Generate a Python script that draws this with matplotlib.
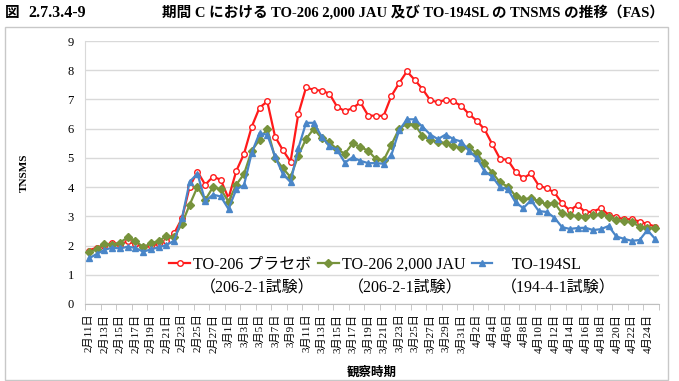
import numpy as np
import matplotlib
matplotlib.use('Agg')
import matplotlib.pyplot as plt
from matplotlib.patches import Rectangle

plt.rcParams['font.family'] = ['Liberation Serif', 'Noto Sans CJK JP']

# TNSMS per observation day, Feb 11 .. Apr 25
placebo = [1.83, 1.93, 2.00, 2.10, 2.03, 2.15, 2.05, 1.96, 2.00, 2.05,
           2.15, 2.42, 2.93, 4.02, 4.53, 4.08, 4.36, 4.25, 3.62, 4.55,
           5.14, 6.07, 6.72, 6.93, 5.73, 5.27, 4.87, 6.50, 7.41, 7.33,
           7.30, 7.20, 6.75, 6.60, 6.70, 6.90, 6.45, 6.44, 6.44, 7.12,
           7.56, 7.96, 7.67, 7.36, 6.98, 6.90, 6.99, 6.93, 6.78, 6.50,
           6.27, 5.98, 5.47, 4.97, 4.93, 4.53, 4.30, 4.47, 4.05, 3.96,
           3.82, 3.45, 3.20, 3.39, 3.14, 3.16, 3.28, 3.05, 2.97, 2.90,
           2.90, 2.82, 2.74, 2.65]
jau2000 = [1.77, 1.87, 2.07, 2.03, 2.10, 2.28, 2.17, 1.94, 2.08, 2.15,
           2.33, 2.28, 2.75, 3.40, 4.01, 3.56, 4.00, 3.93, 3.50, 4.08,
           4.45, 5.25, 5.62, 6.00, 5.00, 4.65, 4.34, 5.08, 5.65, 6.00,
           5.67, 5.53, 5.30, 5.14, 5.50, 5.37, 5.25, 4.96, 4.92, 5.45,
           6.00, 6.17, 6.14, 5.76, 5.62, 5.56, 5.50, 5.39, 5.35, 5.37,
           5.16, 4.82, 4.50, 4.16, 4.02, 3.70, 3.58, 3.62, 3.52, 3.41,
           3.47, 3.10, 3.03, 3.01, 2.99, 3.05, 3.07, 2.99, 2.88, 2.84,
           2.80, 2.65, 2.61, 2.61]
to194sl = [1.56, 1.71, 1.85, 1.93, 1.90, 1.96, 1.92, 1.79, 1.87, 1.94,
           2.02, 2.17, 2.93, 4.19, 4.46, 3.52, 3.74, 3.68, 3.25, 3.92,
           4.07, 5.18, 5.85, 5.79, 5.05, 4.45, 4.17, 5.33, 6.20, 6.20,
           5.73, 5.41, 5.27, 4.84, 5.02, 4.90, 4.82, 4.82, 4.80, 5.10,
           5.94, 6.32, 6.32, 6.07, 5.80, 5.64, 5.80, 5.64, 5.56, 5.25,
           4.99, 4.55, 4.36, 4.00, 3.93, 3.48, 3.28, 3.55, 3.18, 3.15,
           2.96, 2.63, 2.57, 2.60, 2.61, 2.53, 2.56, 2.67, 2.31, 2.23,
           2.16, 2.19, 2.53, 2.23]

# labels shown on every other day
tick_labels = ['2月11日', '2月13日', '2月15日', '2月17日', '2月19日', '2月21日',
               '2月23日', '2月25日', '2月27日', '3月1日', '3月3日', '3月5日',
               '3月7日', '3月9日', '3月11日', '3月13日', '3月15日', '3月17日',
               '3月19日', '3月21日', '3月23日', '3月25日', '3月27日', '3月29日',
               '3月31日', '4月2日', '4月4日', '4月6日', '4月8日', '4月10日',
               '4月12日', '4月14日', '4月16日', '4月18日', '4月20日', '4月22日',
               '4月24日']

series_names = ['TO-206 プラセボ', 'TO-206 2,000 JAU', '    TO-194SL']
study_names = ['（206-2-1試験）', '（206-2-1試験）', '（194-4-1試験）']

x = np.arange(len(placebo))

fig = plt.figure(figsize=(6.79, 3.81), dpi=100)
fig.patch.set_facecolor('w')
fig.add_artist(Rectangle((5/679, 0.002), 663/679, (381-28)/381, transform=fig.transFigure,
                         fill=False, edgecolor='#c8c8c8', linewidth=1.0))

ax = fig.add_axes([85/679, (381-304)/381, 574/679, 263/381])

ax.plot(x, placebo, color='#ff1a1a', linewidth=1.6, marker='o', markersize=4.0,
        markerfacecolor='white', markeredgecolor='#ff1a1a', markeredgewidth=1.0,
        label=series_names[0], zorder=3)
ax.plot(x, jau2000, color='#77933c', linewidth=1.6, marker='D', markersize=4.0,
        markerfacecolor='#77933c', markeredgecolor='#77933c',
        label=series_names[1], zorder=3)
ax.plot(x, to194sl, color='#4a86c8', linewidth=1.6, marker='^', markersize=4.0,
        markerfacecolor='#4a86c8', markeredgecolor='#4a86c8',
        label=series_names[2], zorder=3)

ax.set_xlim(-0.5, len(x) - 0.5)
ax.set_ylim(0, 9)
ax.set_yticks(range(0, 10))
ax.yaxis.grid(True, color='#d9d9d9', linewidth=1.0)
ax.set_axisbelow(True)

ax.set_xticks(x[::2])
ax.set_xticklabels(tick_labels, rotation=90, fontsize=8, va='top', ha='center')
ax.set_xticks(np.arange(-0.5, len(x), 2), minor=True)
ax.tick_params(axis='x', which='major', length=0, pad=7)
ax.tick_params(axis='x', which='minor', length=4, color='#bfbfbf', direction='out')
ax.tick_params(axis='y', length=0, labelsize=9, pad=8)

for side in ['top', 'right']:
    ax.spines[side].set_visible(False)
ax.spines['left'].set_color('#d9d9d9')
ax.spines['bottom'].set_color('#bfbfbf')

ax.set_ylabel('TNSMS', fontsize=8, fontweight='bold', labelpad=28)
ax.set_xlabel('観察時期', fontsize=9, fontweight='bold', labelpad=10)

leg = ax.legend(loc='lower center', bbox_to_anchor=(0.505, 0.095), ncol=3, frameon=False,
                fontsize=11.5, handlelength=1.3, handletextpad=0.2, columnspacing=0.4,
                borderaxespad=0)

for i, name in enumerate(study_names):
    ax.text([0.30, 0.557, 0.825][i], 0.06, name, transform=ax.transAxes,
            ha='center', va='center', fontsize=11.5)

fig.text(5/679, 1 - 13/381, '図', fontsize=10.5, fontweight='bold',
         va='center', ha='left')
fig.text(28/679, 1 - 13/381, '2.7.3.4-9', fontsize=11.5, fontweight='bold',
         va='center', ha='left')
fig.text(162/679, 1 - 13/381, '期間 C における TO-206 2,000 JAU 及び TO-194SL の TNSMS の推移（FAS）',
         fontsize=10.5, fontweight='bold', va='center', ha='left')

fig.savefig('out.png', dpi=100)
